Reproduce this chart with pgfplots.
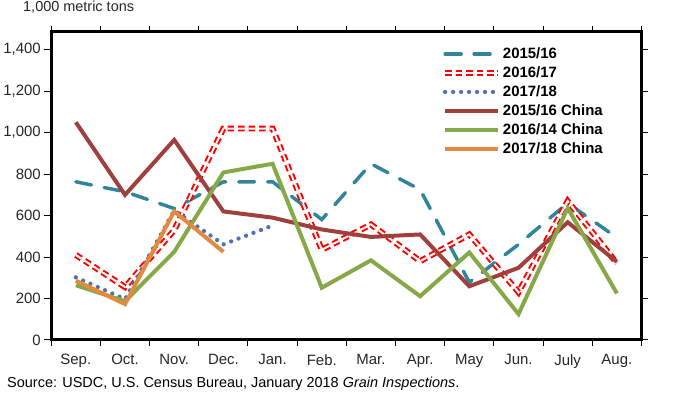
\documentclass[border=0pt]{standalone}
\usepackage{fontspec}
\setmainfont{Liberation Sans}
\usepackage{pgfplots}
\pgfplotsset{compat=1.18}
\definecolor{cteal}{HTML}{31849B}
\definecolor{cred}{HTML}{FF0000}
\definecolor{cblue}{HTML}{4F72B0}
\definecolor{cbrown}{HTML}{A0403D}
\definecolor{cgreen}{HTML}{86A847}
\definecolor{corange}{HTML}{E38A3E}
\definecolor{ctext}{HTML}{262626}
\begin{document}
\begin{tikzpicture}
\begin{axis}[
  at={(0,0)}, anchor=origin,
  scale only axis, width=592pt, height=309pt,
  xmin=-0.5, xmax=11.5, ymin=0, ymax=1486,
  xtick={0,...,11},
  xticklabels={Sep.,Oct.,Nov.,Dec.,Jan.,Feb.,Mar.,Apr.,May,Jun.,July,Aug.},
  minor xtick={-0.5,0.5,...,11.5},
  major x tick style={draw=none},
  minor x tick style={line width=1pt, black},
  ytick={0,200,...,1400},
  y tick style={line width=1pt, black},
  tick align=outside,
  major tick length=7pt, minor tick length=6pt,
  yticklabel style={/pgf/number format/.cd, 1000 sep={,}, assume math mode=true},
  every tick label/.append style={font=\fontsize{15}{18}\selectfont, text=ctext},
  xticklabel style={yshift=-4pt},
  axis line style={line width=3pt, black},
  axis lines=box,
  legend style={draw=none, fill=none, at={(0.662,0.955)}, anchor=north west,
    font=\bfseries\fontsize{15}{18}\selectfont, row sep=2.6pt, inner sep=0pt,
    cells={anchor=west}},
  legend cell align=left,
  legend image code/.code={\draw[#1] (0pt,0pt) -- (53pt,0pt);},
]
\addplot[cteal, line width=3.5pt, dash pattern=on 16pt off 13pt, line cap=round] coordinates {
(0,763) (1,715) (2,634) (3,763) (4,763) (5,581) (6,850) (7,725) (8,278) (9,461) (10,660) (11,494)};
\addlegendentry{2015/16}
\addplot[cred, line width=2pt, double=white, double distance=2pt, dash pattern=on 6.5pt off 4pt] coordinates {
(0,410) (1,255) (2,530) (3,1020) (4,1020) (5,435) (6,557) (7,380) (8,509) (9,230) (10,670) (11,370)};
\addlegendentry{2016/17}
\addplot[cblue, line width=4.3pt, dash pattern=on 0pt off 8pt, line cap=round] coordinates {
(0,302) (1,197) (2,625) (3,461) (4,552)};
\addlegendentry{2017/18}
\addplot[cbrown, line width=4pt] coordinates {
(0,1050) (1,700) (2,965) (3,620) (4,590) (5,533) (6,497) (7,509) (8,259) (9,348) (10,568) (11,377)};
\addlegendentry{2015/16 China}
\addplot[cgreen, line width=4pt] coordinates {
(0,264) (1,187) (2,425) (3,808) (4,850) (5,252) (6,384) (7,211) (8,422) (9,125) (10,636) (11,225)};
\addlegendentry{2016/14 China}
\addplot[corange, line width=4pt] coordinates {
(0,286) (1,173) (2,620) (3,425)};
\addlegendentry{2017/18 China}
\end{axis}
\node[anchor=north west, inner sep=0pt, font=\fontsize{14.5}{17}\selectfont, text=ctext] at (-53pt,340pt) {1,000 metric tons};
\node[anchor=west, inner sep=0pt, font=\fontsize{14.5}{17}\selectfont, text=black] at (-69pt,-44pt) {Source: USDC, U.S. Census Bureau, January 2018 \textit{Grain Inspections}.};
\path[use as bounding box] (-74pt,-57pt) rectangle (606pt,341pt);
\end{tikzpicture}
\end{document}
